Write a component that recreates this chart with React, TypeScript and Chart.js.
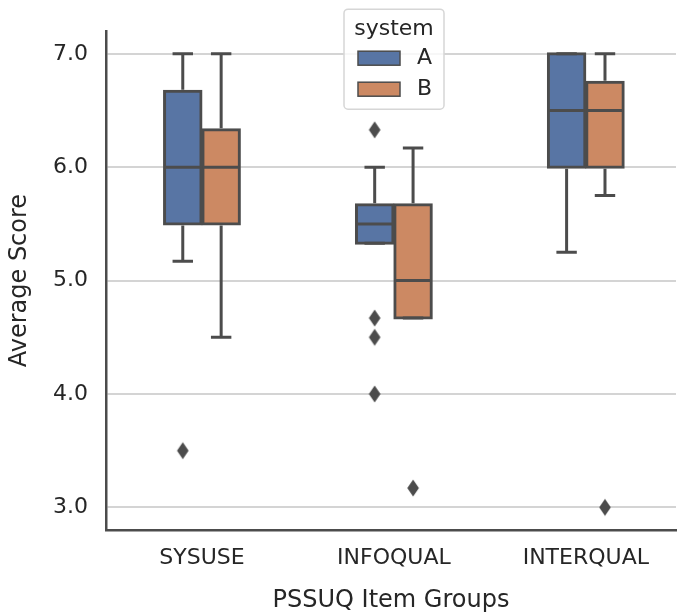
import React, { useEffect, useRef } from 'react';
import { Chart, registerables } from 'chart.js';

Chart.register(...registerables);

const categories = ['SYSUSE', 'INFOQUAL', 'INTERQUAL'];
const systems = ['A', 'B'];
const yTicks = [3, 4, 5, 6, 7];

// System A box statistics per category
const aLow = [5.17, 5.33, 5.25];
const aQ1 = [5.5, 5.33, 6.0];
const aMedian = [6.0, 5.5, 6.5];
const aQ3 = [6.67, 5.67, 7.0];
const aHigh = [7.0, 6.0, 7.0];
const aOutliers = [[3.5], [6.33, 4.67, 4.5, 4.0], []];

// System B box statistics per category
const bLow = [4.5, 4.67, 5.75];
const bQ1 = [5.5, 4.67, 6.0];
const bMedian = [6.0, 5.0, 6.5];
const bQ3 = [6.33, 5.67, 6.75];
const bHigh = [7.0, 6.17, 7.0];
const bOutliers = [[], [3.17], [3.0]];

const COLOR_A = '#5875a4';
const COLOR_B = '#cc8963';
const LINE = '#4c4c4c';
const TEXT = '#262626';
const FONT = 'DejaVu Sans';
const HUE_OFFSET = 0.1;

function makeDiamond(): HTMLCanvasElement {
  const c = document.createElement('canvas');
  c.width = 14;
  c.height = 20;
  const g = c.getContext('2d')!;
  g.fillStyle = LINE;
  g.beginPath();
  g.moveTo(7, 1.5);
  g.lineTo(12.8, 10);
  g.lineTo(7, 18.5);
  g.lineTo(1.2, 10);
  g.closePath();
  g.fill();
  return c;
}

const stats = [
  { low: aLow, med: aMedian, high: aHigh, q1: aQ1, q3: aQ3 },
  { low: bLow, med: bMedian, high: bHigh, q1: bQ1, q3: bQ3 },
];

const boxPlugin = {
  id: 'boxWhiskers',
  afterDatasetsDraw(chart: any) {
    const ctx = chart.ctx;
    const y = chart.scales.y;
    ctx.save();
    ctx.strokeStyle = LINE;
    ctx.lineWidth = 3;
    ctx.lineCap = 'butt';
    stats.forEach((s, di) => {
      const meta = chart.getDatasetMeta(di);
      meta.data.forEach((el: any, i: number) => {
        const { x, width } = el.getProps(['x', 'width'], true);
        const half = width / 2 + 1.5;
        const cap = width * 0.28;
        const pLow = y.getPixelForValue(s.low[i]);
        const pHigh = y.getPixelForValue(s.high[i]);
        const pQ1 = y.getPixelForValue(s.q1[i]);
        const pQ3 = y.getPixelForValue(s.q3[i]);
        const pMed = y.getPixelForValue(s.med[i]);
        ctx.beginPath();
        ctx.moveTo(x, pQ1 + 1.5);
        ctx.lineTo(x, pLow);
        ctx.moveTo(x, pQ3 - 1.5);
        ctx.lineTo(x, pHigh);
        ctx.moveTo(x - cap, pLow);
        ctx.lineTo(x + cap, pLow);
        ctx.moveTo(x - cap, pHigh);
        ctx.lineTo(x + cap, pHigh);
        ctx.moveTo(x - half + 1.5, pMed);
        ctx.lineTo(x + half - 1.5, pMed);
        ctx.stroke();
      });
    });
    ctx.restore();
  },
  afterDraw(chart: any) {
    const ctx = chart.ctx;
    const area = chart.chartArea;
    const cx = (area.left + area.right) / 2 + 3;
    const left = cx - 50;
    const top = area.top - 22;
    const w = 100;
    const h = 100;
    ctx.save();
    ctx.fillStyle = 'rgba(255,255,255,0.8)';
    ctx.strokeStyle = '#d6d6d6';
    ctx.lineWidth = 1.5;
    const r = 4;
    ctx.beginPath();
    ctx.moveTo(left + r, top);
    ctx.lineTo(left + w - r, top);
    ctx.arcTo(left + w, top, left + w, top + r, r);
    ctx.lineTo(left + w, top + h - r);
    ctx.arcTo(left + w, top + h, left + w - r, top + h, r);
    ctx.lineTo(left + r, top + h);
    ctx.arcTo(left, top + h, left, top + h - r, r);
    ctx.lineTo(left, top + r);
    ctx.arcTo(left, top, left + r, top, r);
    ctx.closePath();
    ctx.fill();
    ctx.stroke();
    ctx.fillStyle = TEXT;
    ctx.font = `22px "${FONT}"`;
    ctx.textAlign = 'center';
    ctx.textBaseline = 'middle';
    ctx.fillText('system', cx, top + 20);
    const colors = [COLOR_A, COLOR_B];
    systems.forEach((name, i) => {
      const py = top + 42 + i * 31;
      ctx.fillStyle = colors[i];
      ctx.fillRect(left + 14, py, 42, 14);
      ctx.strokeStyle = LINE;
      ctx.lineWidth = 1.5;
      ctx.strokeRect(left + 14, py, 42, 14);
      ctx.fillStyle = TEXT;
      ctx.textAlign = 'left';
      ctx.fillText(name, left + 73, py + 7);
    });
    ctx.restore();
  },
};

export default function App() {
  const ref = useRef<HTMLCanvasElement>(null);
  useEffect(() => {
    if (!ref.current) return;
    const diamond = makeDiamond();
    const outlierPoints: { x: number; y: number }[] = [];
    [aOutliers, bOutliers].forEach((set, di) => {
      set.forEach((vals, i) => {
        vals.forEach((v) => outlierPoints.push({ x: i + (di === 0 ? -HUE_OFFSET : HUE_OFFSET), y: v }));
      });
    });
    const barDs = (label: string, q1: number[], q3: number[], color: string) => ({
      type: 'bar' as const,
      label,
      data: categories.map((_, i) => ({ x: i, y: [q1[i], q3[i]] })),
      backgroundColor: color,
      borderColor: LINE,
      borderWidth: 3,
      borderSkipped: false,
      inflateAmount: 1.5,
      categoryPercentage: 0.4,
      barPercentage: 0.95,
    });
    const chart = new Chart(ref.current, {
      type: 'bar',
      data: {
        datasets: [
          barDs(systems[0], aQ1, aQ3, COLOR_A),
          barDs(systems[1], bQ1, bQ3, COLOR_B),
          {
            type: 'scatter' as const,
            label: 'outliers',
            data: outlierPoints,
            pointStyle: diamond,
            backgroundColor: LINE,
            borderColor: LINE,
          } as any,
        ],
      },
      options: {
        animation: false,
        responsive: true,
        maintainAspectRatio: false,
        events: [],
        layout: { padding: { left: 0, top: 30, right: 0, bottom: 0 } },
        plugins: { legend: { display: false }, tooltip: { enabled: false } },
        scales: {
          x: {
            type: 'linear',
            min: -0.5,
            max: 2.47,
            offset: false,
            afterBuildTicks: (s: any) => {
              s.ticks = categories.map((_, i) => ({ value: i }));
            },
            afterFit: (s: any) => {
              s.height = 85;
            },
            grid: { display: false, drawTicks: false },
            border: { display: true, color: LINE, width: 2.5 },
            ticks: {
              autoSkip: false,
              maxRotation: 0,
              padding: 15,
              color: TEXT,
              font: { family: FONT, size: 22 },
              callback: (v: any) => categories[Math.round(v)] ?? '',
            },
            title: {
              display: true,
              text: 'PSSUQ Item Groups',
              color: TEXT,
              font: { family: FONT, size: 24 },
              padding: { top: 6, bottom: 0 },
            },
          },
          y: {
            type: 'linear',
            min: 2.8,
            max: 7.2,
            afterBuildTicks: (s: any) => {
              s.ticks = yTicks.map((v) => ({ value: v }));
            },
            afterFit: (s: any) => {
              s.width = 106;
            },
            grid: { color: '#d4d4d4', lineWidth: 2, drawTicks: false },
            border: { display: true, color: LINE, width: 2.5 },
            ticks: {
              padding: 18,
              color: TEXT,
              font: { family: FONT, size: 22 },
              callback: (v: any) => Number(v).toFixed(1),
            },
            title: {
              display: true,
              text: 'Average Score',
              color: TEXT,
              font: { family: FONT, size: 24 },
              padding: { top: 5, bottom: 0 },
            },
          },
        },
      },
      plugins: [boxPlugin],
    } as any);
    return () => chart.destroy();
  }, []);
  return (
    <div style={{ position: 'absolute', left: 0, top: 0, width: 681, height: 615 }}>
      <canvas ref={ref} />
    </div>
  );
}
